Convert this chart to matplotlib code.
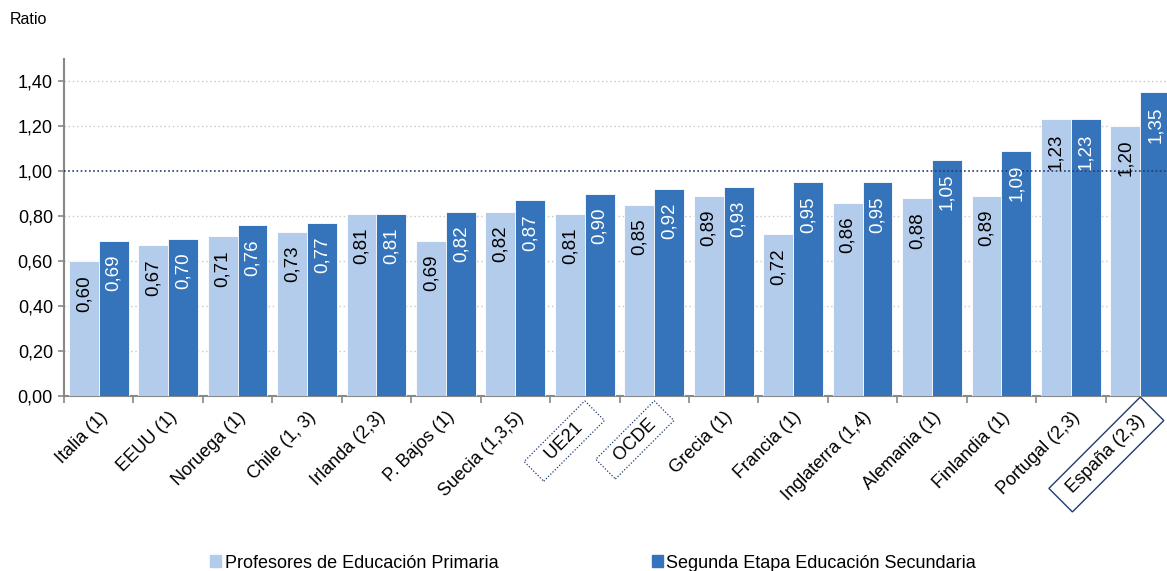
import numpy as np
import matplotlib.pyplot as plt
from matplotlib.patches import Patch

plt.rcParams['font.family'] = ['Liberation Sans', 'DejaVu Sans']

paises = ['Italia (1)', 'EEUU (1)', 'Noruega (1)', 'Chile (1, 3)', 'Irlanda (2,3)',
          'P. Bajos (1)', 'Suecia (1,3,5)', 'UE21', 'OCDE', 'Grecia (1)',
          'Francia (1)', 'Inglaterra (1,4)', 'Alemania (1)', 'Finlandia (1)',
          'Portugal (2,3)', 'España (2,3)']
primaria = [0.60, 0.67, 0.71, 0.73, 0.81, 0.69, 0.82, 0.81, 0.85, 0.89,
            0.72, 0.86, 0.88, 0.89, 1.23, 1.20]
secundaria = [0.69, 0.70, 0.76, 0.77, 0.81, 0.82, 0.87, 0.90, 0.92, 0.93,
              0.95, 0.95, 1.05, 1.09, 1.23, 1.35]

light = '#B4CCEC'
dark = '#3574BA'

fig = plt.figure(figsize=(11.67, 5.71), dpi=100)
ax = fig.add_axes([64 / 1167, 175 / 571, 1111 / 1167, 337.5 / 571])

x = np.arange(len(paises))
w = 0.43
b1 = ax.bar(x - w / 2, primaria, w, color=light, edgecolor='white', linewidth=0.6, zorder=3)
b2 = ax.bar(x + w / 2, secundaria, w, color=dark, edgecolor='white', linewidth=0.6, zorder=3)

def fmt(v):
    return f'{v:.2f}'.replace('.', ',')

for bars, vals, col in [(b1, primaria, 'black'), (b2, secundaria, 'white')]:
    for r, v in zip(bars, vals):
        ax.annotate(fmt(v), (r.get_x() + r.get_width() / 2, v), xytext=(0, -10),
                    textcoords='offset points', rotation=90, ha='center', va='top',
                    color=col, fontsize=13.5, zorder=5)

ax.set_ylim(0, 1.5)
ax.set_xlim(-0.5, len(paises) - 0.5)
yt = np.arange(0, 1.41, 0.2)
ax.set_yticks(yt)
ax.set_yticklabels([fmt(v) for v in yt], fontsize=13)
for v in yt[1:]:
    if abs(v - 1.0) < 1e-6:
        ax.axhline(v, color='#1F3C6E', ls=(0, (1, 1.5)), lw=1.2, zorder=4)
    else:
        ax.axhline(v, color='#C8C8C8', ls=(0, (1, 2)), lw=1.0, zorder=1)

# boxed labels get some extra room along the text
etiquetas = []
for p in paises:
    if p == 'UE21':
        etiquetas.append('   UE21   ')
    elif p == 'OCDE':
        etiquetas.append('  OCDE  ')
    elif p.startswith('España'):
        etiquetas.append(' ' + p + ' ')
    else:
        etiquetas.append(p)

ax.set_xticks(np.arange(len(paises) + 1) - 0.5, minor=False)
ax.set_xticklabels([])
ax.tick_params(axis='x', length=5, color='#888888', width=1.2)
ax.tick_params(axis='y', length=4, color='#888888', width=1.2, pad=4)
ax.set_xticks(x, minor=True)
ax.set_xticklabels(etiquetas, minor=True, rotation=45, ha='right',
                   rotation_mode='anchor', fontsize=13)
ax.tick_params(axis='x', which='minor', length=0, pad=9)

for lbl in ax.get_xticklabels(minor=True):
    t = lbl.get_text().strip()
    if t in ('UE21', 'OCDE'):
        lbl.set_bbox(dict(boxstyle='square,pad=0.3', fc='none', ec='#1F3C6E',
                          ls=(0, (1, 1.5)), lw=0.9))
    elif t.startswith('España'):
        lbl.set_bbox(dict(boxstyle='square,pad=0.45', fc='none', ec='#1F3C6E', lw=1.0))

for s in ['top', 'right']:
    ax.spines[s].set_visible(False)
for s in ['left', 'bottom']:
    ax.spines[s].set_color('#888888')
    ax.spines[s].set_linewidth(1.5)

fig.text(10 / 1167, 1 - 20 / 571, 'Ratio', fontsize=11.5, va='center')

handles = [Patch(color=light, label='Profesores de Educación Primaria'),
           Patch(color=dark, label='Segunda Etapa Educación Secundaria')]
fig.legend(handles=handles, loc='center', bbox_to_anchor=(593 / 1167, 1 - 563 / 571),
           ncol=2, frameon=False, fontsize=13, handlelength=0.6, handleheight=0.6,
           handletextpad=0.2, columnspacing=8.5)

fig.savefig('out.png', dpi=100)
